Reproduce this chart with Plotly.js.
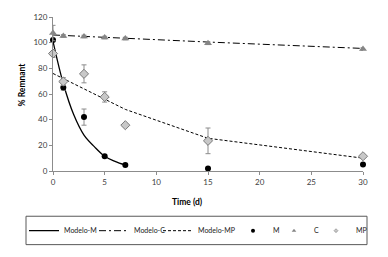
<!DOCTYPE html>
<html><head><meta charset="utf-8">
<script src="https://cdn.plot.ly/plotly-3.0.1.min.js"></script>
<style>html,body{margin:0;padding:0;background:#fff}#chart{width:388px;height:257px}</style>
</head><body><div id="chart"></div>
<script>
// Model curves
const modelMTime = [0, 1, 2, 3, 4, 5, 6, 7];
const modelMValue = [101, 68, 44, 28, 19, 11.5, 7.5, 4.6];
const modelCTime = [0, 1, 3, 5, 7, 15, 30];
const modelCValue = [106, 105.6, 105, 104.2, 103.5, 100.5, 95.5];
const modelMPTime = [0, 1, 3, 5, 7, 15, 30];
const modelMPValue = [76, 72, 64, 56.5, 48, 25.5, 10];
// Observed data
const obsTime = [0, 1, 3, 5, 7, 15, 30];
const mValue = [102, 65, 42, 11.5, 4.7, 2, 5];
const mErr = [0, 2, 6.3, 1, 0.5, 0.5, 0.5];
const cValue = [107.5, 105.2, 104.8, 104, 103.2, 99.5, 95];
const cErr = [6, 1, 1, 1, 1, 1, 1];
const mpValue = [91.5, 69.7, 75.7, 57.7, 35.7, 23.5, 11.5];
const mpErr = [3, 3, 7, 4, 1, 10, 1];
const xTicks = [0, 5, 10, 15, 20, 25, 30];
const yTicks = [0, 20, 40, 60, 80, 100, 120];

// plot-area geometry (pixels)
const L = 53, T = 17, W = 310, H = 160;
const px = (x) => (x - L) / W;
const py = (y) => (T + H - y) / H;

const errStyle = (arr) => ({type: 'data', array: arr, visible: true, color: '#8c8c8c', thickness: 1, width: 2.5});

const traces = [
  {x: modelMTime, y: modelMValue, name: 'Modelo-M', mode: 'lines', legend: 'legend',
   line: {color: '#000', width: 1.3, shape: 'spline', smoothing: 1}},
  {x: modelCTime, y: modelCValue, name: 'Modelo-C', mode: 'lines', legend: 'legend2',
   line: {color: '#000', width: 1, dash: '7px,3px,2px,3px'}},
  {x: modelMPTime, y: modelMPValue, name: 'Modelo-MP', mode: 'lines', legend: 'legend3',
   line: {color: '#000', width: 1, dash: '3px,2px'}},
  {x: obsTime, y: mValue, name: 'M', mode: 'markers', error_y: errStyle(mErr),
   marker: {symbol: 'circle', color: '#000', size: 6}, cliponaxis: false, showlegend: false},
  {x: obsTime, y: cValue, name: 'C', mode: 'markers', error_y: errStyle(cErr),
   marker: {symbol: 'triangle-up', color: '#858585', size: 7}, cliponaxis: false, showlegend: false},
  {x: obsTime, y: mpValue, name: 'MP', mode: 'markers', error_y: errStyle(mpErr),
   marker: {symbol: 'diamond', color: '#c8c8c8', size: 7, line: {color: '#7a7a7a', width: 1}}, cliponaxis: false, showlegend: false},
  // legend entries with small symbols, as in the reference legend
  {x: [null], y: [null], name: 'M', mode: 'markers', legend: 'legend4', marker: {symbol: 'circle', color: '#000', size: 4}},
  {x: [null], y: [null], name: 'C', mode: 'markers', legend: 'legend5', marker: {symbol: 'triangle-up', color: '#858585', size: 4}},
  {x: [null], y: [null], name: 'MP', mode: 'markers', legend: 'legend6', marker: {symbol: 'diamond', color: '#c8c8c8', size: 3, line: {color: '#7a7a7a', width: 0.6}}}
];

const legFont = {family: 'Lato, "Open Sans", sans-serif', size: 7, color: '#222'};
const leg = (xpx) => ({orientation: 'h', x: px(xpx), xanchor: 'left', y: py(239), yanchor: 'middle',
  borderwidth: 0, bgcolor: 'rgba(0,0,0,0)', font: legFont, itemwidth: 30});

const tickFont = {family: 'Lato, "Open Sans", sans-serif', size: 8, color: '#404040'};
const layout = {
  width: 388, height: 257,
  margin: {l: L, r: 388 - L - W, t: T, b: 257 - T - H},
  paper_bgcolor: '#fff', plot_bgcolor: '#fff',
  showlegend: true,
  xaxis: {range: [0, 30], tickvals: xTicks, ticktext: xTicks.map(String),
    showgrid: false, zeroline: false, showline: true, linecolor: '#8c8c8c', linewidth: 1,
    ticks: 'outside', ticklen: 3, tickcolor: '#8c8c8c', tickfont: tickFont},
  yaxis: {range: [0, 120], tickvals: yTicks, ticktext: yTicks.map(String),
    showgrid: false, zeroline: false, showline: true, linecolor: '#8c8c8c', linewidth: 1,
    ticks: 'outside', ticklen: 3, tickcolor: '#8c8c8c', tickfont: tickFont},
  annotations: [
    {text: '<b>Time (d)</b>', xref: 'paper', yref: 'paper', x: px(187), y: py(209),
     showarrow: false, xanchor: 'center', yanchor: 'middle',
     font: {family: 'Lato, "Open Sans", sans-serif', size: 8.5, color: '#000'}},
    {text: '<b>% Remnant</b>', xref: 'paper', yref: 'paper', x: px(22), y: py(87),
     textangle: -90, showarrow: false, xanchor: 'center', yanchor: 'middle',
     font: {family: 'Lato, "Open Sans", sans-serif', size: 8.5, color: '#000'}}
  ],
  shapes: [
    {type: 'rect', xref: 'paper', yref: 'paper', x0: px(26), x1: px(367), y0: py(253.5), y1: py(224),
     line: {color: '#595959', width: 1}, fillcolor: 'rgba(0,0,0,0)', layer: 'below'}
  ],
  legend: leg(24),
  legend2: leg(94),
  legend3: leg(158),
  legend4: leg(233),
  legend5: leg(274),
  legend6: leg(316)
};
Plotly.newPlot('chart', traces, layout, {displayModeBar: false, staticPlot: true});
</script></body></html>
